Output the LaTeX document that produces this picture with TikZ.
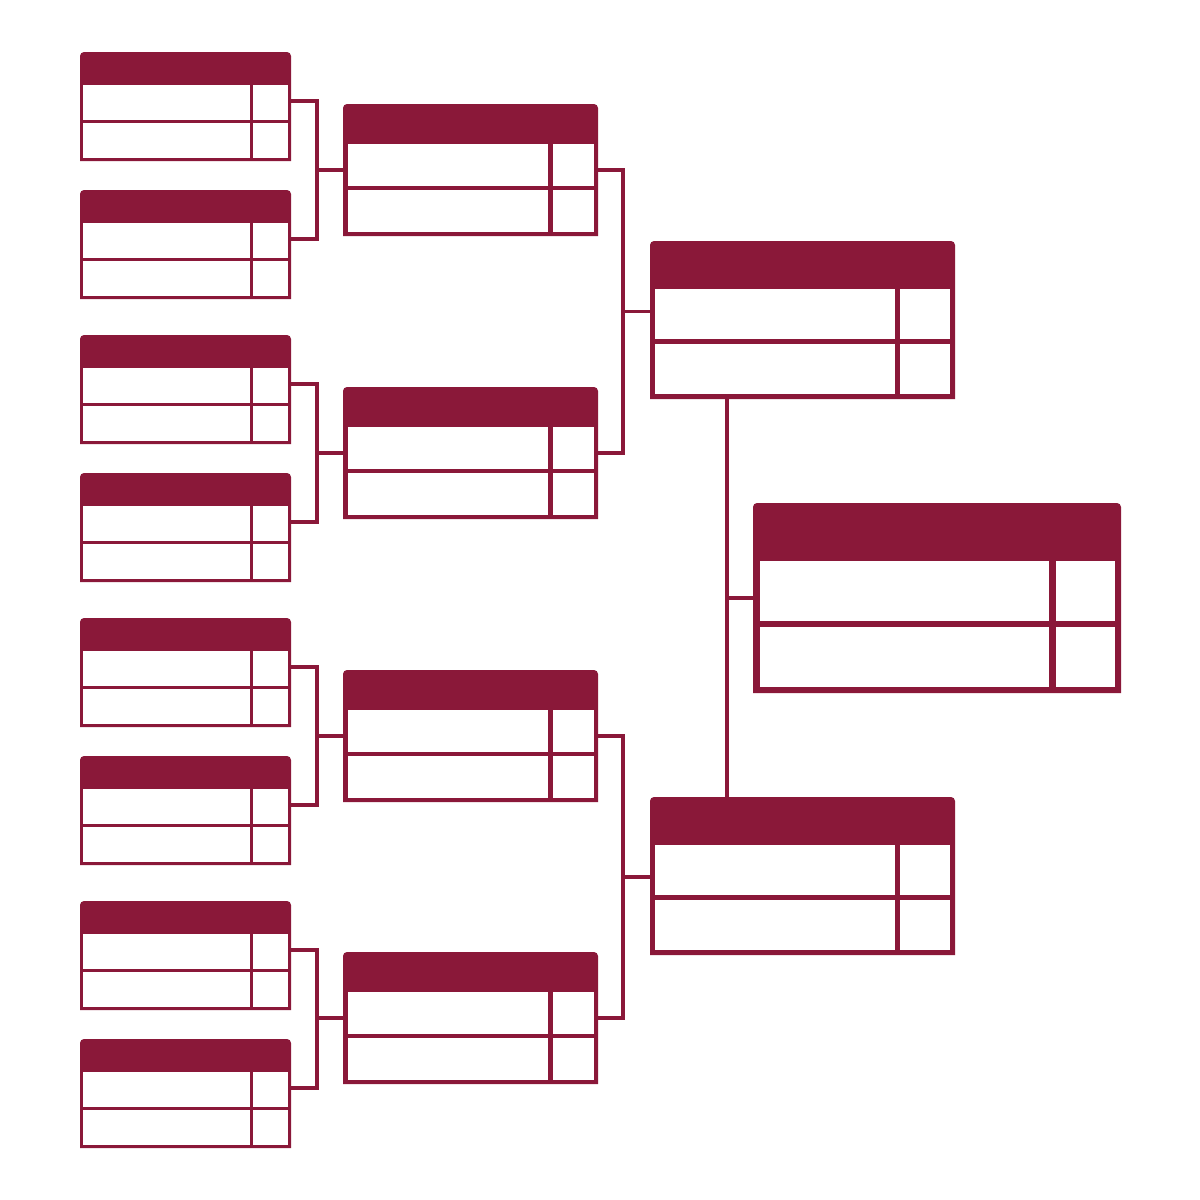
\documentclass[tikz,border=0pt]{standalone}
\usetikzlibrary{calc}

\definecolor{maroon}{RGB}{138,24,57}

% one bracket slot: name, x, y, width, height, header, rule, score width
\newcommand{\matchbox}[8]{%
  \node[slot, minimum width=#4pt, minimum height=#5pt] (#1) at (#2,#3) {};
  \fill[maroon] (#1.south west) [rounded corners=4pt] -- (#1.north west)
    -- (#1.north east) [sharp corners] -- (#1.south east) -- cycle;
  \pgfmathsetmacro\cellh{(#5-#6-2*#7)/2}
  \foreach \r in {0,1} {
    \fill[white] ($(#1.north west)+(#7,{#6+\r*(\cellh+#7)})$) rectangle ++(#4-3*#7-#8,\cellh);
    \fill[white] ($(#1.north west)+(#4-#7-#8,{#6+\r*(\cellh+#7)})$) rectangle ++(#8,\cellh);
  }%
}

\begin{document}
\begin{tikzpicture}[x=1pt, y=-1pt,
  slot/.style={inner sep=0pt, outer sep=0pt, anchor=north west},
  link/.style={draw=maroon, line width=3.5pt}]

\useasboundingbox[fill=white] (0,0) rectangle (1200,1200);

% --- first round
\foreach \y [count=\i] in {52,190,335,473,618,756,901,1039}
  {\matchbox{r1-\i}{80}{\y}{211}{109}{33}{3}{35}}

% --- second round
\foreach \y [count=\i] in {104,387,670,952}
  {\matchbox{r2-\i}{343}{\y}{255}{132}{40}{4.5}{41}}

% --- semi finals and final
\matchbox{sf-1}{650}{241}{305}{158}{48}{5}{50}
\matchbox{sf-2}{650}{797}{305}{158}{48}{5}{50}
\matchbox{fin}{753}{503}{368}{190}{58}{6.5}{59}

% --- first round to second round
\foreach \k [evaluate=\k as \a using int(2*\k-1), evaluate=\k as \b using int(2*\k)] in {1,...,4} {
  \draw[link] ([yshift=-49pt]r1-\a.north east) -| ([xshift=-26pt]r2-\k.west)
    |- ([yshift=-49pt]r1-\b.north east);
  \draw[link] ([xshift=-26pt]r2-\k.west) -- (r2-\k.west);
}

% --- second round to semi finals
\coordinate (m1) at ($(r2-1.east)!0.5!(r2-2.east)$);
\coordinate (m2) at ($(r2-3.east)!0.5!(r2-4.east)$);
\draw[link] (r2-1.east) -| ([xshift=25pt]m1) |- (r2-2.east);
\draw[link] ([xshift=25pt]m1) -- (sf-1.west |- m1);
\draw[link] (r2-3.east) -| ([xshift=25pt]m2) |- (r2-4.east);
\draw[link] ([xshift=25pt]m2) -- (sf-2.west |- m2);

% --- semi finals to final
\coordinate (v1) at ([xshift=77pt]sf-1.south west);
\draw[link] (v1) -- (v1 |- sf-2.north);
\draw[link] (v1 |- fin.west) -- (fin.west);
\end{tikzpicture}
\end{document}
